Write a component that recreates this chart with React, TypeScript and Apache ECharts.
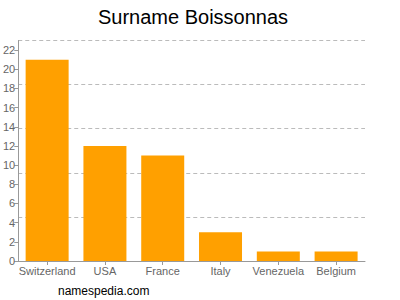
import React, { useEffect, useRef } from "react";
import * as echarts from "echarts";

const categories = ["Switzerland", "USA", "France", "Italy", "Venezuela", "Belgium"];
const counts = [21, 12, 11, 3, 1, 1];
const yMax = 23;

export default function App() {
  const ref = useRef<HTMLDivElement>(null);
  useEffect(() => {
    const chart = echarts.init(ref.current!, undefined, { renderer: "svg" });
    chart.setOption({
      animation: false,
      title: {
        text: "Surname Boissonnas",
        left: 188,
        textAlign: "center",
        top: 2,
        textStyle: { fontFamily: "Liberation Sans, Arial, sans-serif", fontSize: 20, fontWeight: "normal", color: "#000" },
      },
      graphic: [
        {
          type: "text",
          left: 58,
          top: 285,
          style: { text: "namespedia.com", fontFamily: "Liberation Sans, Arial, sans-serif", fontSize: 12, fill: "#000" },
        },
      ],
      grid: { left: 17, right: 35, top: 40.5, bottom: 39 },
      xAxis: {
        type: "category",
        data: categories,
        axisLine: { lineStyle: { color: "#999" } },
        axisTick: { show: true, alignWithLabel: true, length: 4, lineStyle: { color: "#999" } },
        axisLabel: { color: "#666", fontSize: 11, fontFamily: "Liberation Sans, Arial, sans-serif", margin: 4, interval: 0 },
      },
      yAxis: [
        {
          type: "value",
          min: 0,
          max: yMax,
          interval: 2,
          axisLine: { show: true, lineStyle: { color: "#999" } },
          axisTick: { show: true, length: 4, lineStyle: { color: "#999" } },
          axisLabel: { color: "#666", fontSize: 11, fontFamily: "Liberation Sans, Arial, sans-serif", margin: 3, showMaxLabel: false },
          splitLine: { show: false },
        },
        {
          type: "value",
          min: 0,
          max: yMax,
          interval: yMax / 5,
          position: "left",
          axisLine: { show: false },
          axisTick: { show: false },
          axisLabel: { show: false },
          splitLine: { show: true, lineStyle: { color: "#bbb", type: [4, 3], width: 1 } },
        },
      ],
      series: [
        {
          type: "bar",
          data: counts,
          barWidth: 43,
          itemStyle: { color: "#FFA000" },
        },
      ],
    });
    return () => chart.dispose();
  }, []);
  return <div ref={ref} style={{ width: 400, height: 300, position: "absolute", left: 0, top: 0 }} />;
}
